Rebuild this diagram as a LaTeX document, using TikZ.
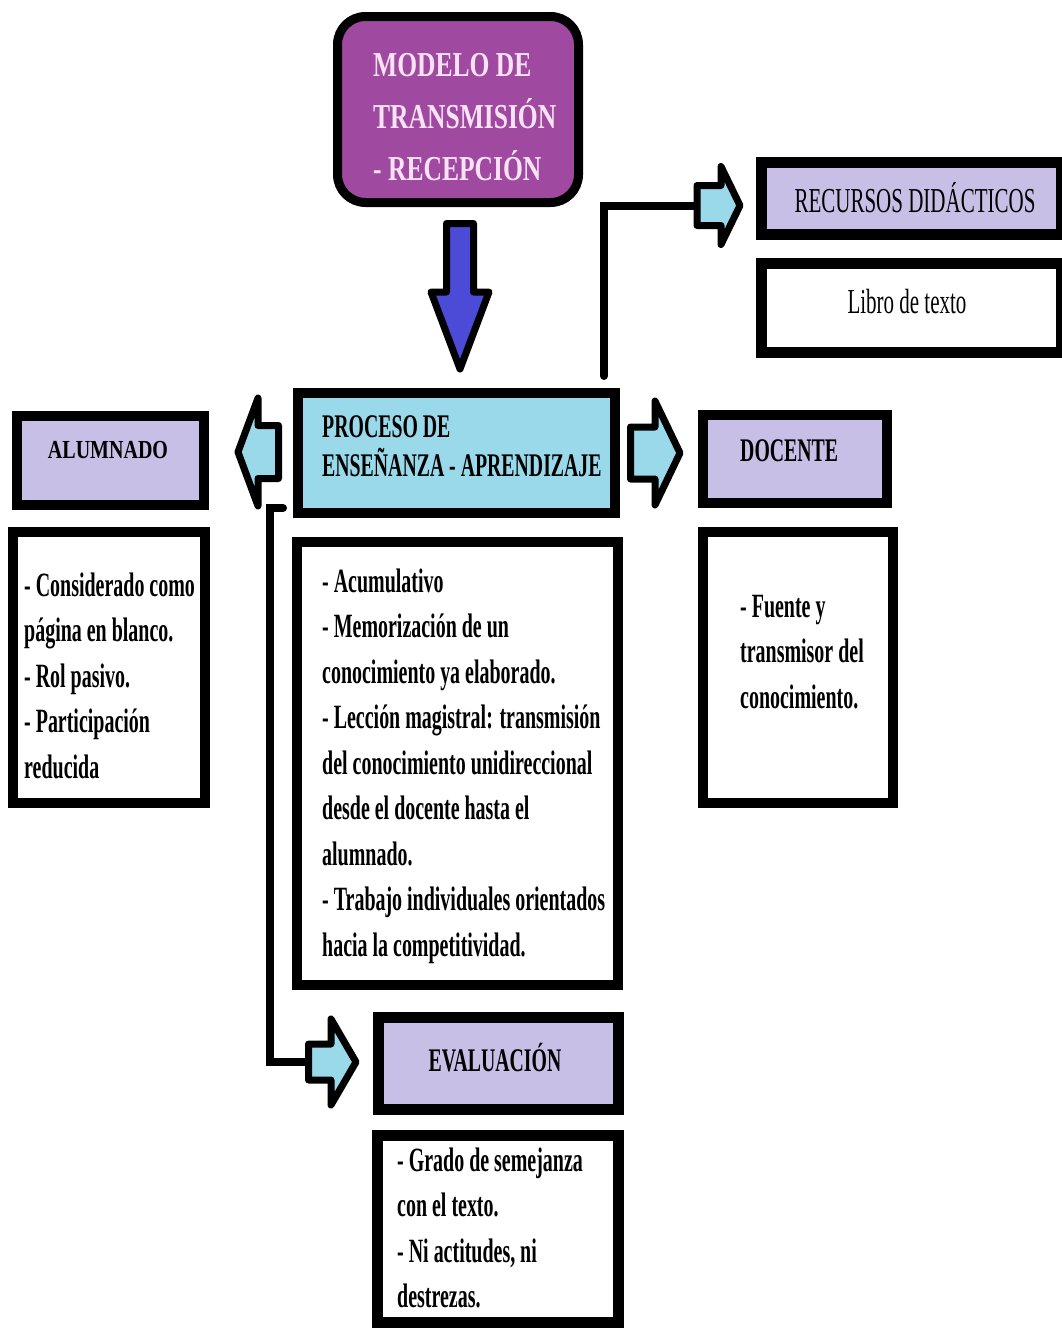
\documentclass[tikz,border=0pt]{standalone}
\usepackage{fontspec}
\setmainfont{Liberation Serif}
\newfontfamily\narrowfont{Liberation Serif}[FakeStretch=0.6]
\newfontfamily\bodyfont{Liberation Serif}[FakeStretch=0.587]
\newfontfamily\titlefont{Liberation Serif}[FakeStretch=0.73]
\newfontfamily\midfont{Liberation Serif}[FakeStretch=0.77]

\definecolor{modelopurple}{RGB}{159,74,160}
\definecolor{titlepink}{RGB}{250,226,245}
\definecolor{lavender}{RGB}{200,191,231}
\definecolor{paleblue}{RGB}{153,217,234}
\definecolor{arrowblue}{RGB}{75,75,215}

% horizontal block arrow: tail x, head base x, tip x, centre y, shaft half, head half
\newcommand\hblockarrow[6]{%
  \filldraw[blockarrow] (#1,#4-#5) -- (#2,#4-#5) -- (#2,#4-#6) -- (#3,#4)
    -- (#2,#4+#6) -- (#2,#4+#5) -- (#1,#4+#5) -- cycle;}

\newcommand\bodytext[1]{\parbox[t]{340pt}{\bodyfont\bfseries\fontsize{34}{45.5}\selectfont #1}}

\begin{document}
\begin{tikzpicture}[x=1pt,y=-1pt,
  box/.style={draw=black, line width=10pt, inner sep=0pt, line join=miter},
  headbox/.style={box, fill=lavender},
  txt/.style={anchor=base west, inner sep=0pt},
  ctxt/.style={anchor=base, inner sep=0pt},
  conn/.style={draw=black, line width=8pt, line join=miter, line cap=round},
  blockarrow/.style={draw=black, line width=7pt, fill=paleblue, line join=round},
]
\clip (0,0) rectangle (1062,1328);
\fill[white] (0,0) rectangle (1062,1328);

% ---- boxes ----
\node[box, line width=9pt, fill=modelopurple, rounded corners=28pt,
      minimum width=241pt, minimum height=186pt] (modelo) at (458,109.5) {};
\node[headbox, line width=11pt, minimum width=300pt, minimum height=72pt] (recursos) at (911,198.5) {};
\node[box, line width=11pt, fill=white, minimum width=300pt, minimum height=89pt] (libro) at (911,308) {};
\node[box, fill=paleblue, minimum width=317pt, minimum height=120pt] (proceso) at (456.5,453) {};
\node[headbox, minimum width=187pt, minimum height=89pt] (alumnado) at (110.5,460.5) {};
\node[headbox, minimum width=184pt, minimum height=88pt] (docente) at (795,459) {};
\node[box, fill=white, minimum width=192pt, minimum height=271pt] (aluInfo) at (109,667.5) {};
\node[box, fill=white, minimum width=190pt, minimum height=271pt] (docInfo) at (798,667.5) {};
\node[box, fill=white, minimum width=321pt, minimum height=443pt] (procInfo) at (457.5,763.5) {};
\node[headbox, line width=11pt, minimum width=240pt, minimum height=92pt] (evaluacion) at (498,1063.5) {};
\node[box, line width=11pt, fill=white, minimum width=241pt, minimum height=187pt] (evalInfo) at (497.5,1229) {};

% ---- texts ----
\node[txt, text=titlepink] (modeloT) at (373,76)
  {\parbox[t]{240pt}{\titlefont\bfseries\fontsize{35}{52}\selectfont MODELO DE\\TRANSMISIÓN\\- RECEPCIÓN}};
\node[ctxt] (recursosT) at (915,212) {\narrowfont\fontsize{35}{40}\selectfont RECURSOS DIDÁCTICOS};
\node[ctxt] (libroT) at (907,313) {\narrowfont\fontsize{35}{40}\selectfont Libro de texto};
\node[txt] (procesoT) at (322,437)
  {\parbox[t]{300pt}{\narrowfont\bfseries\fontsize{33}{39}\selectfont PROCESO DE\\ENSEÑANZA - APRENDIZAJE}};
\node[ctxt] (alumnadoT) at (108,458) {\midfont\bfseries\fontsize{26}{30}\selectfont ALUMNADO};
\node[txt] (docenteT) at (740,461) {\narrowfont\bfseries\fontsize{33}{39}\selectfont DOCENTE};
\node[ctxt] (evaluacionT) at (495,1071) {\narrowfont\bfseries\fontsize{33}{39}\selectfont EVALUACIÓN};

\node[txt] (aluInfoT) at (24,596) {\bodytext{- Considerado como\\página en blanco.\\- Rol pasivo.\\- Participación\\reducida}};
\node[txt] (procInfoT) at (322,592) {\bodytext{- Acumulativo\\- Memorización de un\\conocimiento ya elaborado.\\- Lección magistral: transmisión\\del conocimiento unidireccional\\desde el docente hasta el\\alumnado.\\- Trabajo individuales orientados\\hacia la competitividad.}};
\node[txt] (docInfoT) at (740,617) {\bodytext{- Fuente y\\transmisor del\\conocimiento.}};
\node[txt] (evalInfoT) at (397,1171) {\bodytext{- Grado de semejanza\\con el texto.\\- Ni actitudes, ni\\destrezas.}};

% ---- connector lines ----
\coordinate (recStart) at (604,376);
\coordinate (recTail) at (700,205.5);
\coordinate (evStart) at (283,508);
\coordinate (evTail) at (312,1062);
\draw[conn] (recStart) |- (recTail);
\draw[conn] (evStart) -| (270,1062) -- (evTail);

% ---- block arrows ----
\filldraw[blockarrow, fill=arrowblue]
  (446.5,223.5) -- (473.5,223.5) -- (473.5,292) -- (489,292) -- (460,369)
  -- (431,292) -- (446.5,292) -- cycle;
\hblockarrow{697}{721}{740}{205.5}{20}{39}
\hblockarrow{630.5}{655}{680}{453}{26}{52}
\hblockarrow{278.5}{258}{238}{452}{26.5}{54}
\hblockarrow{308.5}{331}{356}{1062}{18}{43}
\end{tikzpicture}
\end{document}
